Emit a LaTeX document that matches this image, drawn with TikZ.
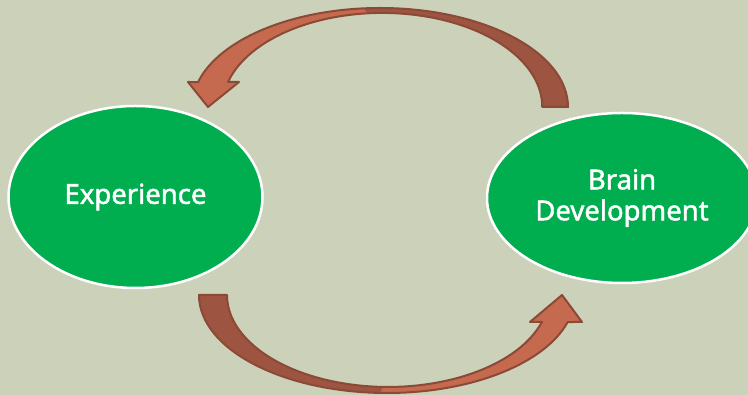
\documentclass[tikz,border=0pt]{standalone}
\usepackage{fontspec}
\setmainfont{Noto Sans}[AutoFakeBold=1.6]
\definecolor{bgc}{RGB}{204,210,185}
\definecolor{grn}{RGB}{0,173,79}
\definecolor{adark}{RGB}{157,84,65}
\definecolor{alight}{RGB}{198,106,79}
\definecolor{aline}{RGB}{139,73,55}
\tikzset{
  oval/.style={ellipse, draw=white, line width=2.5pt, fill=grn, text=white, align=center, font=\fontsize{27.5}{31}\selectfont\bfseries},
  arrowline/.style={draw=aline, line width=2pt, line join=round},
}
\usetikzlibrary{shapes.geometric}
\begin{document}
\begin{tikzpicture}[x=1pt,y=1pt]
\useasboundingbox (0,0) rectangle (748,395);
\fill[bgc] (0,0) rectangle (748,395);
% ellipses
\node[oval, minimum width=254pt, minimum height=182pt, inner sep=0pt] (exp) at (135.5,198) {Experience};
\node[oval, minimum width=270pt, minimum height=170pt, inner sep=0pt] (brain) at (622,197) {Brain\\Development};
% top arrow
\fill[alight] (568,288) arc[start angle=0, end angle=165.4, x radius=188pt, y radius=99pt] -- (188,313) -- (208,288) -- (239,313) -- (228,313) arc[start angle=164.6, end angle=0, x radius=160pt, y radius=94pt] -- cycle;
\fill[adark] (568,288) arc[start angle=0, end angle=95, x radius=188pt, y radius=99pt] -- (368.1,381.6) arc[start angle=95, end angle=0, x radius=160pt, y radius=94pt] -- cycle;
\draw[arrowline] (568,288) arc[start angle=0, end angle=165.4, x radius=188pt, y radius=99pt] -- (188,313) -- (208,288) -- (239,313) -- (228,313) arc[start angle=164.6, end angle=0, x radius=160pt, y radius=94pt] -- cycle;
% bottom arrow
\fill[alight] (199,100) arc[start angle=180, end angle=344, x radius=188pt, y radius=98pt] -- (582,73) -- (562,100) -- (530,73) -- (541.9,73) arc[start angle=342.9, end angle=180, x radius=161pt, y radius=92pt] -- cycle;
\fill[adark] (199,100) arc[start angle=180, end angle=268, x radius=188pt, y radius=98pt] -- (382.4,8.1) arc[start angle=268, end angle=180, x radius=161pt, y radius=92pt] -- cycle;
\draw[arrowline] (199,100) arc[start angle=180, end angle=344, x radius=188pt, y radius=98pt] -- (582,73) -- (562,100) -- (530,73) -- (541.9,73) arc[start angle=342.9, end angle=180, x radius=161pt, y radius=92pt] -- cycle;
\end{tikzpicture}
\end{document}
